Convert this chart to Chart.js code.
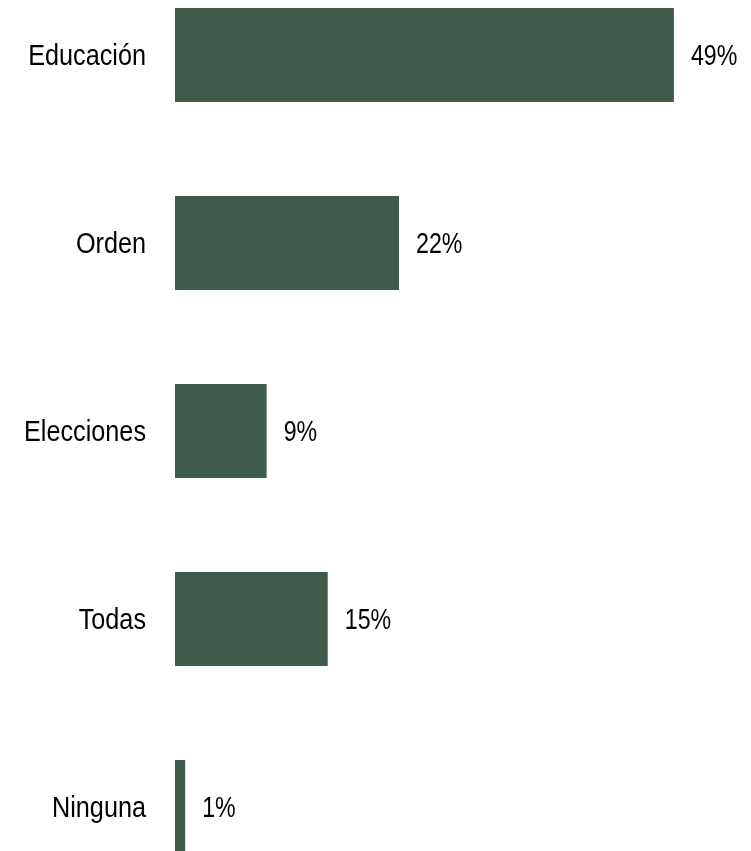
<!DOCTYPE html>
<html>
<head>
<meta charset="utf-8">
<script src="https://cdn.jsdelivr.net/npm/chart.js@4"></script>
<style>
  html, body { margin: 0; padding: 0; background: #fff; }
  #wrap { width: 751px; height: 851px; position: relative; }
</style>
</head>
<body>
<div id="wrap"><canvas id="graph"></canvas></div>
<script>
var categories = ['Educación', 'Orden', 'Elecciones', 'Todas', 'Ninguna'];
var values = [49, 22, 9, 15, 1];
var valueLabels = ['49%', '22%', '9%', '15%', '1%'];

// no narrow font installed, so squeeze Liberation Sans horizontally
var fontFamily = '"Liberation Sans Narrow", "Arial Narrow", "Liberation Sans", Arial, sans-serif';
var barColor = '#3e5b4c';

function drawNarrow(ctx, text, x, y, align, sx) {
  ctx.save();
  ctx.translate(x, y);
  ctx.scale(sx, 1);
  ctx.textAlign = align;
  ctx.fillText(text, 0, 0);
  ctx.restore();
}

// category names on the left and % next to each bar
var textPlugin = {
  id: 'narrowText',
  afterDatasetsDraw: function(chart) {
    var ctx = chart.ctx;
    var meta = chart.getDatasetMeta(0);
    var yScale = chart.scales.y;
    ctx.save();
    ctx.font = '29px ' + fontFamily;
    ctx.fillStyle = '#000';
    ctx.textBaseline = 'middle';
    categories.forEach(function(c, i) {
      drawNarrow(ctx, c, 146, yScale.getPixelForValue(i) + 1.5, 'right', 0.87);
    });
    meta.data.forEach(function(bar, i) {
      drawNarrow(ctx, valueLabels[i], bar.x + 17, bar.y + 1.5, 'left', 0.8);
    });
    ctx.restore();
  }
};

var ctx = document.getElementById('graph');
var chartInstance = new Chart(ctx, {
  type: 'bar',
  data: {
    labels: categories,
    datasets: [{
      data: values,
      backgroundColor: barColor,
      borderWidth: 0,
      categoryPercentage: 0.5,
      barPercentage: 1,
      clip: false
    }]
  },
  options: {
    indexAxis: 'y',
    responsive: true,
    maintainAspectRatio: false,
    animation: false,
    layout: { padding: { top: 55, bottom: 44, left: 0, right: 16 } },
    plugins: {
      legend: { display: false },
      tooltip: { enabled: false }
    },
    scales: {
      x: {
        display: false,
        min: 0,
        max: 55
      },
      y: {
        offset: false,
        grid: { display: false, offset: false },
        border: { display: false },
        ticks: { display: false },
        afterFit: function(scale) { scale.width = 175; }
      }
    }
  },
  plugins: [textPlugin]
});
</script>
</body>
</html>
